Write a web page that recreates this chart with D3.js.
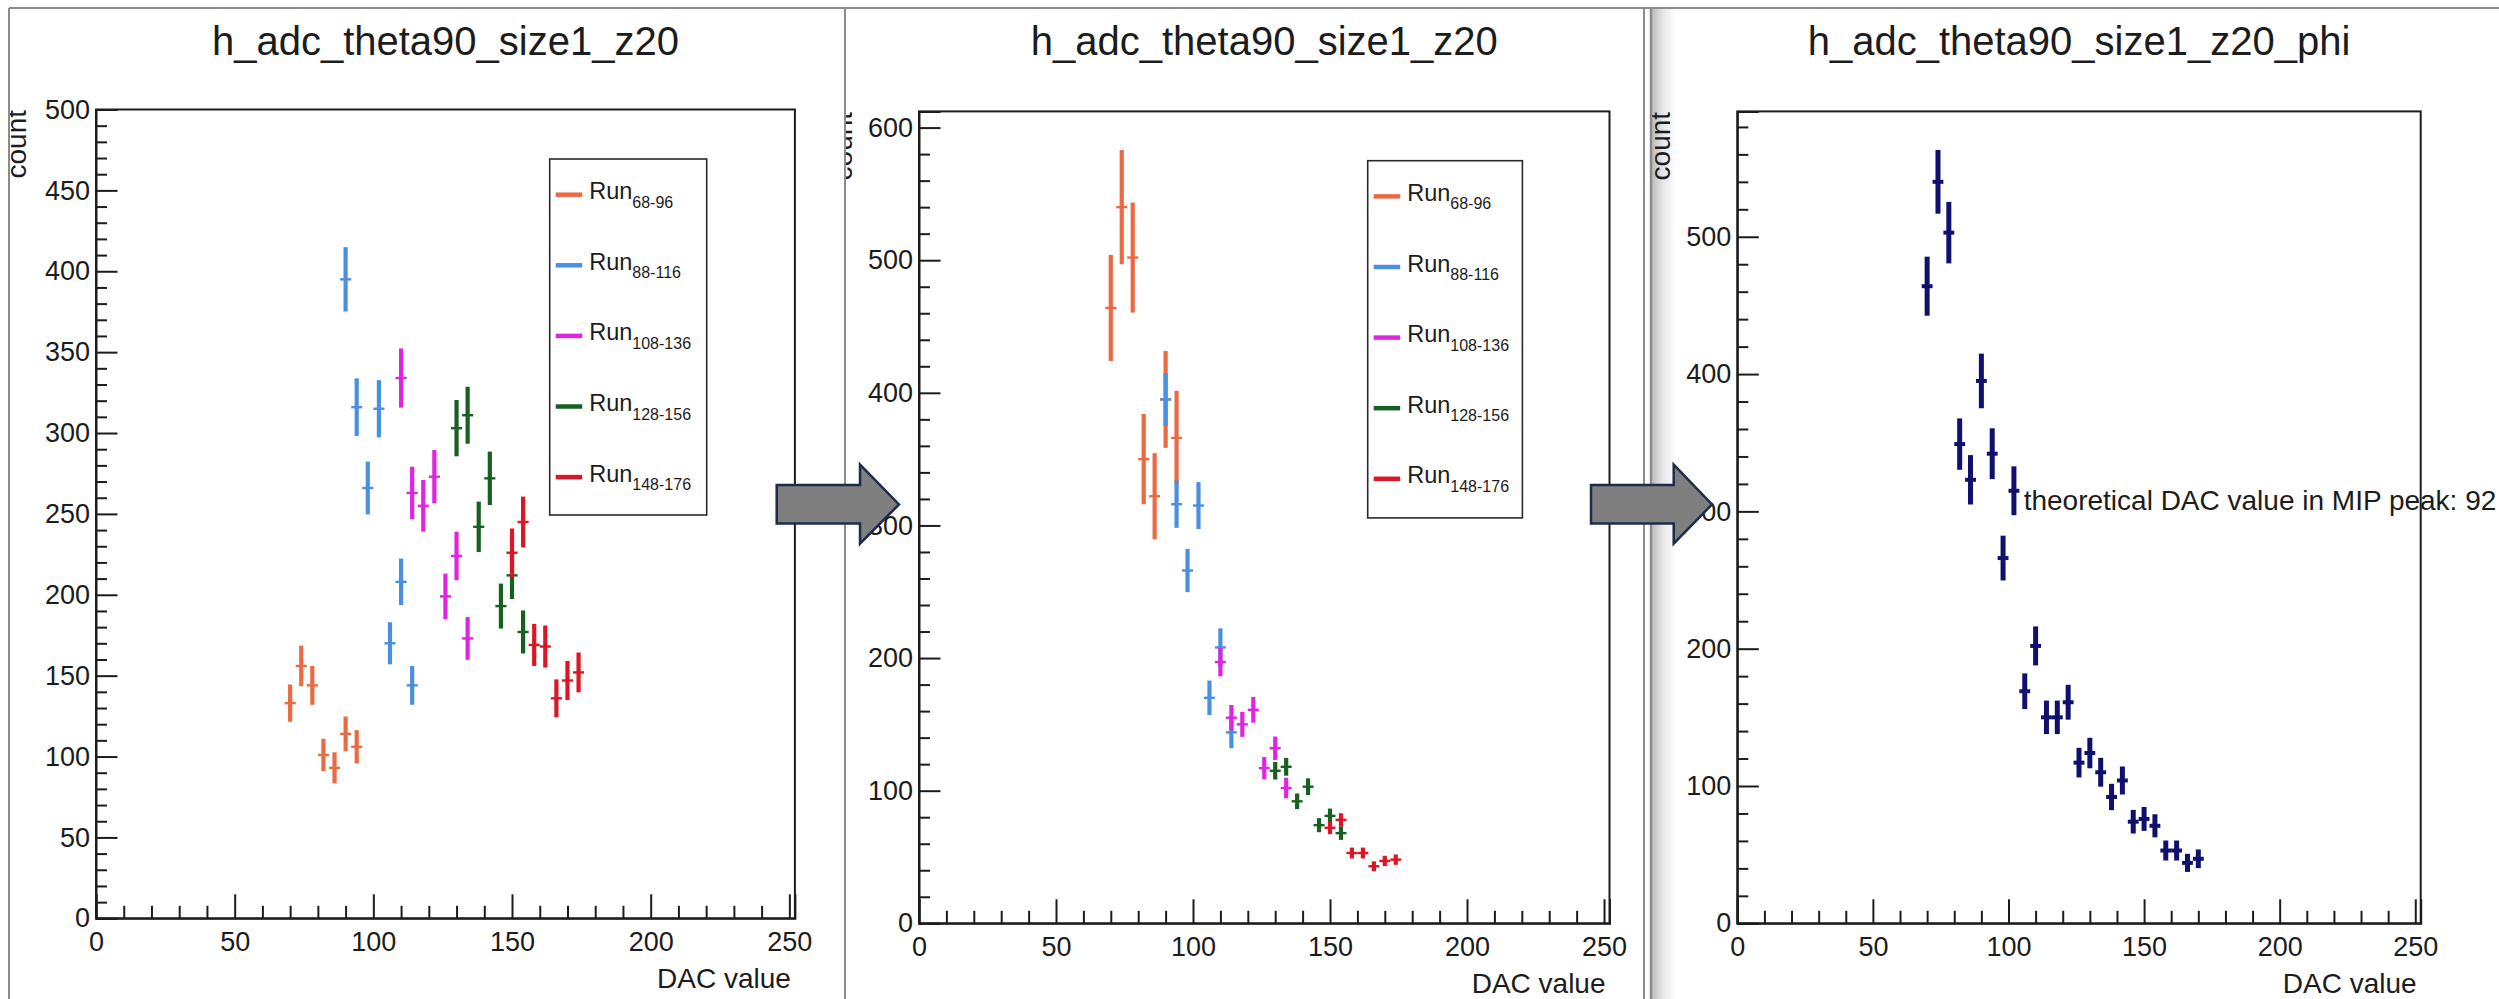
<!DOCTYPE html>
<html>
<head>
<meta charset="utf-8">
<script src="https://cdn.jsdelivr.net/npm/d3@7"></script>
<style>
  html, body { margin: 0; padding: 0; background: #fff; }
  svg { display: block; font-family: "Liberation Sans", Arial, Helvetica, sans-serif; }
</style>
</head>
<body>
<svg id="chart" width="2499" height="999"></svg>
<script>
// ---------------- DATA ----------------
const titles = ["h_adc_theta90_size1_z20", "h_adc_theta90_size1_z20", "h_adc_theta90_size1_z20_phi"];
const xTitle = "DAC value";
const yTitle = "count";
const annotation = "theoretical DAC value in MIP peak: 92";

const xMajorTicks = [0, 50, 100, 150, 200, 250];
const p1YTicks = [0, 50, 100, 150, 200, 250, 300, 350, 400, 450, 500];
const p2YTicks = [0, 100, 200, 300, 400, 500, 600];
const p3YTicks = [0, 100, 200, 300, 400, 500];

const seriesNames = ["Run", "Run", "Run", "Run", "Run"];
const seriesSubs = ["68-96", "88-116", "108-136", "128-156", "148-176"];
const seriesColors = ["#ea6a42", "#4a90e0", "#e024e0", "#18601f", "#dc1624"];

// DAC bin centres of each run range
const x68_96   = [70, 74, 78, 82, 86, 90, 94];
const x88_116  = [90, 94, 98, 102, 106, 110, 114];
const x108_136 = [110, 114, 118, 122, 126, 130, 134];
const x128_156 = [130, 134, 138, 142, 146, 150, 154];
const x148_176 = [150, 154, 158, 162, 166, 170, 174];

// Panel 1: raw counts
const p1_68_96   = [133, 156, 144, 101, 93, 114, 106];
const p1_68_96e  = [11.5, 12.5, 12, 10, 9.6, 10.7, 10.3];
const p1_88_116  = [395, 316, 266, 315, 170, 208, 144];
const p1_88_116e = [19.9, 17.8, 16.3, 17.7, 13, 14.4, 12];
const p1_108_136  = [334, 263, 255, 273, 199, 224, 173];
const p1_108_136e = [18.3, 16.2, 16, 16.5, 14.1, 15, 13.2];
const p1_128_156  = [303, 311, 242, 272, 193, 212, 177];
const p1_128_156e = [17.4, 17.6, 15.6, 16.5, 13.9, 14.6, 13.3];
const p1_148_176  = [226, 245, 169, 168, 136, 147, 152];
const p1_148_176e = [15, 15.7, 13, 13, 11.7, 12.1, 12.3];

// Panel 2: rescaled counts
const p2_68_96   = [464, 540, 502, 350, 322, 395, 366];
const p2_68_96e  = [40, 43, 41.5, 34, 32.5, 36.5, 35.5];
const p2_88_116  = [395, 316, 266, 315, 170, 208, 144];
const p2_88_116e = [19.9, 17.8, 16.3, 17.7, 13, 14.4, 12];
const p2_108_136  = [197, 155, 150, 161, 117, 132, 102];
const p2_108_136e = [10.8, 9.6, 9.4, 9.7, 8.3, 8.8, 7.8];
const p2_128_156  = [115, 118, 92, 103, 74, 81, 68];
const p2_128_156e = [6.6, 6.7, 5.9, 6.3, 5.3, 5.5, 5.1];
const p2_148_176  = [72, 78, 53, 53, 43, 47, 48];
const p2_148_176e = [4.8, 5, 4.1, 4.1, 3.7, 3.9, 3.9];

// Panel 3: combined
const p3X = [70, 74, 78, 82, 86, 90, 94, 98, 102, 106, 110, 114, 118, 122, 126, 130, 134, 138, 142, 146, 150, 154, 158, 162, 166, 170];
const p3Y = [464, 540, 503, 349, 323, 395, 342, 266, 315, 169, 202, 150, 150, 161, 117, 124, 110, 92, 104, 74, 76, 71, 53, 53, 44, 47];
const p3E = [21.5, 23.2, 22.4, 18.7, 18, 19.9, 18.5, 16.3, 17.8, 13, 14.2, 12.2, 12.2, 12.7, 10.8, 11.1, 10.5, 9.6, 10.2, 8.6, 8.7, 8.4, 7.3, 7.3, 6.6, 6.8];
const p3Color = "#10106e";

// ---------------- DRAWING ----------------
const svg = d3.select("#chart");
const defs = svg.append("defs");
const INK = "#1c1c1c";
const BORDER = "#8c8c8c";

function zip(xs, ys, es) { return xs.map((x, i) => ({ x: x, y: ys[i], e: es[i] })); }

function drawPanel(cfg) {
  const clipId = "clip" + cfg.id;
  defs.append("clipPath").attr("id", clipId)
    .append("rect").attr("x", cfg.clip[0]).attr("y", 0).attr("width", cfg.clip[1] - cfg.clip[0]).attr("height", 999);
  const g = svg.append("g").attr("clip-path", `url(#${clipId})`);

  const x = d3.scaleLinear().domain([0, 252]).range([cfg.x0, cfg.x1]);
  const y = d3.scaleLinear().domain([0, cfg.yMax]).range([cfg.yBot, cfg.yTop]);

  // frame
  g.append("rect").attr("x", cfg.x0).attr("y", cfg.yTop)
    .attr("width", cfg.x1 - cfg.x0).attr("height", cfg.yBot - cfg.yTop)
    .attr("fill", "#fff").attr("stroke", INK).attr("stroke-width", 2);

  // minor ticks
  const xMinor = d3.range(0, 251, 10).filter(v => xMajorTicks.indexOf(v) < 0);
  const yMinor = d3.range(0, cfg.yMax, cfg.yMinorStep).filter(v => cfg.yTicks.indexOf(v) < 0);
  g.append("g").attr("transform", `translate(0,${cfg.yBot})`)
    .call(d3.axisBottom(x).tickValues(xMinor).tickSize(-12.5).tickFormat(""))
    .call(a => a.select(".domain").remove())
    .selectAll("line").attr("stroke", INK).attr("stroke-width", 2);
  g.append("g").attr("transform", `translate(${cfg.x0},0)`)
    .call(d3.axisLeft(y).tickValues(yMinor).tickSize(-11).tickFormat(""))
    .call(a => a.select(".domain").remove())
    .selectAll("line").attr("stroke", INK).attr("stroke-width", 2);

  // major ticks + labels
  const xa = g.append("g").attr("transform", `translate(0,${cfg.yBot})`)
    .call(d3.axisBottom(x).tickValues(xMajorTicks).tickSize(-24).tickPadding(14).tickFormat(d3.format("d")));
  xa.select(".domain").attr("stroke", INK).attr("stroke-width", 2);
  xa.selectAll("line").attr("stroke", INK).attr("stroke-width", 2);
  xa.selectAll("text").attr("font-size", 27).attr("fill", INK).attr("font-family", "Liberation Sans, Arial, sans-serif");

  const ya = g.append("g").attr("transform", `translate(${cfg.x0},0)`)
    .call(d3.axisLeft(y).tickValues(cfg.yTicks).tickSize(-21.5).tickPadding(6).tickFormat(d3.format("d")));
  ya.select(".domain").attr("stroke", INK).attr("stroke-width", 2);
  ya.selectAll("line").attr("stroke", INK).attr("stroke-width", 2);
  ya.selectAll("text").attr("font-size", 27).attr("fill", INK).attr("font-family", "Liberation Sans, Arial, sans-serif");

  // titles
  g.append("text").attr("x", (cfg.x0 + cfg.x1) / 2).attr("y", 55)
    .attr("text-anchor", "middle").attr("font-size", 40).attr("fill", INK).text(cfg.title);
  g.append("text").attr("x", cfg.x1 - 4).attr("y", cfg.yBot + 69.5)
    .attr("text-anchor", "end").attr("font-size", 28).attr("fill", INK).text(xTitle);
  g.append("text").attr("transform", `translate(${cfg.countX},${cfg.yTop + 0.5}) rotate(-90)`)
    .attr("text-anchor", "end").attr("font-size", 28).attr("fill", INK).text(yTitle);

  // data
  cfg.series.forEach(s => {
    const pts = g.append("g");
    s.data.forEach(d => {
      pts.append("line").attr("x1", x(d.x)).attr("x2", x(d.x))
        .attr("y1", y(d.y - d.e)).attr("y2", y(d.y + d.e))
        .attr("stroke", s.color).attr("stroke-width", cfg.vW);
      pts.append("line").attr("x1", x(d.x - 2)).attr("x2", x(d.x + 2))
        .attr("y1", y(d.y)).attr("y2", y(d.y))
        .attr("stroke", s.hColor || s.color).attr("stroke-width", cfg.hW);
    });
  });

  // legend
  if (cfg.legend) {
    const L = cfg.legend;
    const lg = g.append("g");
    lg.append("rect").attr("x", L.x).attr("y", L.y).attr("width", L.w).attr("height", L.h)
      .attr("fill", "#fff").attr("stroke", "#2a2a2a").attr("stroke-width", 1.6);
    seriesNames.forEach((n, i) => {
      const cy = L.y + 35.7 + i * 70.6;
      lg.append("line").attr("x1", L.x + 6).attr("x2", L.x + 32.5).attr("y1", cy).attr("y2", cy)
        .attr("stroke", seriesColors[i]).attr("stroke-width", 4.5);
      const t = lg.append("text").attr("x", L.x + 39.5).attr("y", cy + 4.5)
        .attr("font-size", 23.5).attr("fill", INK);
      t.append("tspan").text(n);
      t.append("tspan").attr("dy", 8.5).attr("font-size", 16).text(seriesSubs[i]);
    });
  }
  return { g: g, x: x, y: y };
}

function runSeries(arrs) {
  return arrs.map((a, i) => ({ color: seriesColors[i], data: zip(a[0], a[1], a[2]) }));
}

// borders / panel separators
svg.append("line").attr("x1", 9).attr("x2", 2499).attr("y1", 8).attr("y2", 8).attr("stroke", BORDER).attr("stroke-width", 2);
svg.append("line").attr("x1", 9).attr("x2", 9).attr("y1", 8).attr("y2", 999).attr("stroke", BORDER).attr("stroke-width", 2);

// shadow at left of panel 3
const grad = defs.append("linearGradient").attr("id", "shade").attr("x1", "0").attr("x2", "1").attr("y1", "0").attr("y2", "0");
grad.append("stop").attr("offset", "0").attr("stop-color", "#bcbcbc");
grad.append("stop").attr("offset", "0.45").attr("stop-color", "#e6e6e6");
grad.append("stop").attr("offset", "1").attr("stop-color", "#ffffff");
svg.append("rect").attr("x", 1652).attr("y", 9).attr("width", 24).attr("height", 990).attr("fill", "url(#shade)");

drawPanel({
  id: 1, clip: [10, 844], title: titles[0],
  x0: 96, x1: 794.9, yTop: 109.5, yBot: 918.3, yMax: 500,
  yTicks: p1YTicks, yMinorStep: 10, countX: 26, vW: 4.2, hW: 2.4,
  series: runSeries([[x68_96, p1_68_96, p1_68_96e], [x88_116, p1_88_116, p1_88_116e],
    [x108_136, p1_108_136, p1_108_136e], [x128_156, p1_128_156, p1_128_156e], [x148_176, p1_148_176, p1_148_176e]]),
  legend: { x: 549.7, y: 159, w: 157, h: 356 }
});

drawPanel({
  id: 2, clip: [846, 1643], title: titles[1],
  x0: 919, x1: 1609.5, yTop: 111.4, yBot: 923.3, yMax: 612.2,
  yTicks: p2YTicks, yMinorStep: 20, countX: 852, vW: 4.2, hW: 2.4,
  series: runSeries([[x68_96, p2_68_96, p2_68_96e], [x88_116, p2_88_116, p2_88_116e],
    [x108_136, p2_108_136, p2_108_136e], [x128_156, p2_128_156, p2_128_156e], [x148_176, p2_148_176, p2_148_176e]]),
  legend: { x: 1367.7, y: 160.7, w: 154.7, h: 357.2 }
});

const p3 = drawPanel({
  id: 3, clip: [1652, 2499], title: titles[2],
  x0: 1737.3, x1: 2420.7, yTop: 111.4, yBot: 923.3, yMax: 591.3,
  yTicks: p3YTicks, yMinorStep: 20, countX: 1670, vW: 5, hW: 4,
  series: [{ color: p3Color, data: zip(p3X, p3Y, p3E) }],
  legend: null
});
p3.g.append("text").attr("x", p3.x(105.6)).attr("y", 510.3)
  .attr("font-size", 28).attr("fill", INK).text(annotation);

// separators drawn on top
svg.append("line").attr("x1", 845).attr("x2", 845).attr("y1", 8).attr("y2", 999).attr("stroke", BORDER).attr("stroke-width", 2);
svg.append("line").attr("x1", 1644).attr("x2", 1644).attr("y1", 8).attr("y2", 999).attr("stroke", BORDER).attr("stroke-width", 2);
svg.append("line").attr("x1", 1651).attr("x2", 1651).attr("y1", 8).attr("y2", 999).attr("stroke", BORDER).attr("stroke-width", 2.5);

// block arrows
function arrow(x0, xb, xt, yc) {
  const p = d3.path();
  p.moveTo(x0, yc - 19.4); p.lineTo(xb, yc - 19.4); p.lineTo(xb, yc - 39.8);
  p.lineTo(xt, yc); p.lineTo(xb, yc + 39.2); p.lineTo(xb, yc + 19);
  p.lineTo(x0, yc + 19); p.closePath();
  svg.append("path").attr("d", p.toString()).attr("fill", "#7f7f7f")
    .attr("stroke", "#1e2b4a").attr("stroke-width", 2.5).attr("stroke-linejoin", "miter");
}
arrow(776.7, 860, 899, 504.4);
arrow(1591, 1673.7, 1712, 504.4);
</script>
</body>
</html>
